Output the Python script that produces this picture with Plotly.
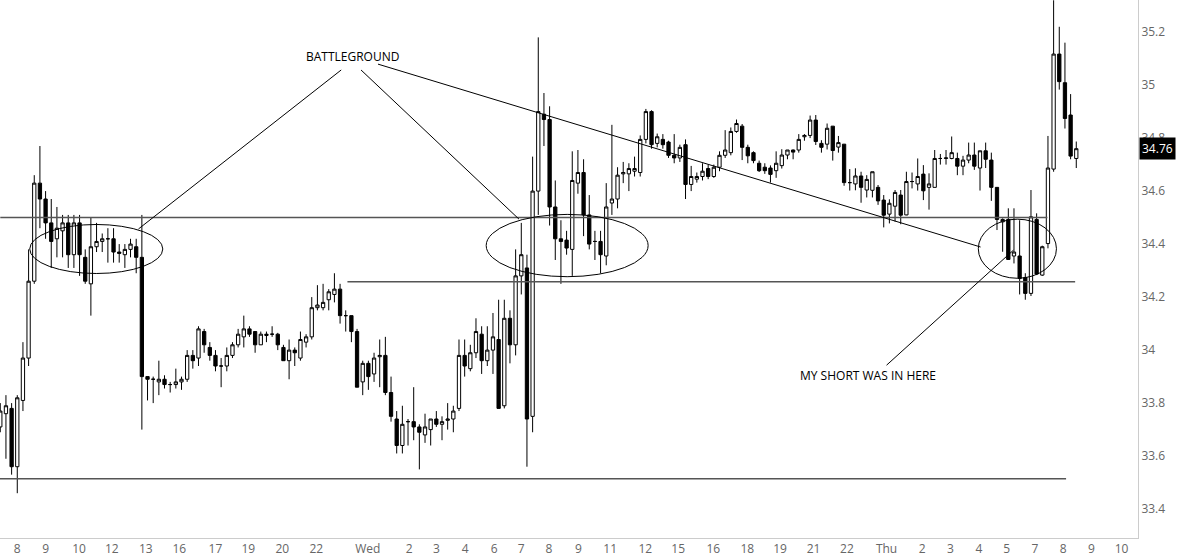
import plotly.graph_objects as go

# Intraday candles (one entry per bar, left to right)
opens = [
    33.71, 33.76, 33.78, 33.56, 33.81, 33.97, 34.26, 34.63, 34.57, 34.48,
    34.42, 34.45, 34.48, 34.36, 34.48, 34.35, 34.25, 34.39, 34.41, 34.42,
    34.42, 34.37, 34.36, 34.38, 34.39, 34.35, 33.90, 33.89, 33.88, 33.89,
    33.87, 33.87, 33.88, 33.89, 33.98, 33.97, 34.07, 34.01, 33.98, 33.94,
    33.94, 33.98, 34.02, 34.05, 34.08, 34.07, 34.02, 34.055, 34.06, 34.06,
    34.01, 33.96, 34.00, 33.97, 34.03, 34.05, 34.16, 34.16, 34.19, 34.21,
    34.23, 34.13, 34.13, 34.07, 33.88, 33.95, 33.91, 33.975, 33.98, 33.84,
    33.74, 33.64, 33.73, 33.73, 33.71, 33.68, 33.70, 33.74, 33.72, 33.735,
    33.74, 33.78, 33.98, 33.93, 33.99, 34.06, 33.96, 34.00, 34.04, 33.79,
    34.12, 34.02, 34.28, 34.31, 33.75, 34.60, 34.89, 34.87, 34.54, 34.42,
    34.415, 34.38, 34.63, 34.67, 34.51, 34.41, 34.41, 34.355, 34.555, 34.57,
    34.665, 34.665, 34.675, 34.67, 34.795, 34.90, 34.78, 34.795, 34.785, 34.735,
    34.725, 34.775, 34.625, 34.645, 34.655, 34.685, 34.655, 34.69, 34.735, 34.745,
    34.825, 34.845, 34.765, 34.745, 34.705, 34.69, 34.687, 34.677, 34.696, 34.736,
    34.755, 34.755, 34.805, 34.81, 34.868, 34.78, 34.777, 34.845, 34.766, 34.777,
    34.632, 34.627, 34.657, 34.604, 34.603, 34.614, 34.566, 34.513, 34.543, 34.585,
    34.51, 34.636, 34.627, 34.664, 34.614, 34.614, 34.723, 34.723, 34.723, 34.723,
    34.694, 34.717, 34.736, 34.687, 34.752, 34.717, 34.614, 34.484, 34.493, 34.355,
    34.355, 34.274, 34.214, 34.493, 34.283, 34.402, 34.683, 35.117, 35.009, 34.887,
    34.723,
]
highs = [
    33.80, 33.83, 33.80, 33.83, 34.03, 34.38, 34.66, 34.77, 34.60, 34.57,
    34.54, 34.51, 34.51, 34.51, 34.51, 34.38, 34.50, 34.48, 34.44, 34.46,
    34.46, 34.40, 34.40, 34.42, 34.42, 34.51, 33.90, 33.90, 33.96, 33.905,
    33.88, 33.93, 33.90, 34.00, 34.00, 34.09, 34.08, 34.03, 34.00, 33.97,
    34.01, 34.03, 34.08, 34.13, 34.09, 34.07, 34.07, 34.07, 34.09, 34.065,
    34.02, 34.04, 34.01, 34.07, 34.06, 34.20, 34.245, 34.25, 34.23, 34.29,
    34.25, 34.15, 34.13, 34.08, 33.96, 33.96, 33.99, 34.04, 34.05, 33.90,
    33.77, 33.79, 33.74, 33.86, 33.72, 33.76, 33.74, 33.77, 33.75, 33.80,
    33.79, 34.04, 34.04, 34.02, 34.12, 34.09, 34.09, 34.14, 34.19, 34.19,
    34.15, 34.38, 34.48, 34.36, 34.73, 35.18, 34.97, 34.92, 34.64, 34.49,
    34.45, 34.75, 34.755, 34.72, 34.585, 34.45, 34.45, 34.63, 34.85, 34.69,
    34.71, 34.705, 34.73, 34.81, 34.91, 34.905, 34.817, 34.815, 34.79, 34.815,
    34.775, 34.795, 34.695, 34.67, 34.705, 34.70, 34.70, 34.75, 34.83, 34.84,
    34.87, 34.853, 34.775, 34.75, 34.715, 34.705, 34.697, 34.75, 34.758, 34.755,
    34.757, 34.815, 34.815, 34.885, 34.887, 34.792, 34.855, 34.845, 34.808, 34.777,
    34.683, 34.686, 34.673, 34.66, 34.673, 34.623, 34.585, 34.569, 34.604, 34.604,
    34.673, 34.67, 34.723, 34.698, 34.667, 34.755, 34.74, 34.755, 34.806, 34.745,
    34.733, 34.783, 34.783, 34.752, 34.783, 34.745, 34.614, 34.497, 34.535, 34.535,
    34.49, 34.29, 34.604, 34.516, 34.394, 34.808, 35.32, 35.22, 35.16, 34.966,
    34.787,
]
lows = [
    33.69, 33.59, 33.53, 33.46, 33.77, 33.94, 34.25, 34.46, 34.42, 34.31,
    34.35, 34.35, 34.31, 34.31, 34.28, 34.25, 34.13, 34.37, 34.37, 34.33,
    34.33, 34.33, 34.31, 34.35, 34.29, 33.70, 33.81, 33.80, 33.83, 33.855,
    33.84, 33.855, 33.85, 33.88, 33.93, 33.94, 33.99, 33.96, 33.92, 33.86,
    33.92, 33.97, 34.01, 34.01, 34.05, 33.99, 34.02, 34.03, 34.05, 34.00,
    33.96, 33.89, 33.94, 33.96, 34.01, 34.04, 34.15, 34.15, 34.15, 34.18,
    34.10, 34.07, 34.03, 33.86, 33.83, 33.85, 33.88, 33.86, 33.83, 33.73,
    33.61, 33.61, 33.64, 33.66, 33.55, 33.65, 33.64, 33.71, 33.66, 33.70,
    33.69, 33.77, 33.90, 33.92, 33.97, 33.91, 33.94, 33.91, 33.78, 33.78,
    33.95, 33.98, 34.21, 33.56, 33.69, 34.51, 34.77, 34.47, 34.34, 34.25,
    34.36, 34.28, 34.59, 34.43, 34.38, 34.34, 34.29, 34.32, 34.51, 34.535,
    34.63, 34.60, 34.655, 34.655, 34.78, 34.76, 34.765, 34.76, 34.725, 34.705,
    34.71, 34.57, 34.60, 34.632, 34.64, 34.645, 34.65, 34.675, 34.725, 34.735,
    34.82, 34.717, 34.705, 34.705, 34.672, 34.665, 34.632, 34.65, 34.685, 34.72,
    34.72, 34.745, 34.79, 34.80, 34.774, 34.745, 34.757, 34.715, 34.745, 34.62,
    34.602, 34.603, 34.556, 34.576, 34.576, 34.548, 34.463, 34.478, 34.485, 34.475,
    34.509, 34.61, 34.602, 34.566, 34.53, 34.614, 34.70, 34.70, 34.72, 34.66,
    34.66, 34.705, 34.68, 34.602, 34.687, 34.563, 34.453, 34.371, 34.34, 34.327,
    34.21, 34.19, 34.204, 34.283, 34.28, 34.384, 34.673, 34.983, 34.836, 34.72,
    34.687,
]
closes = [
    33.77, 33.79, 33.56, 33.82, 33.97, 34.26, 34.63, 34.57, 34.48, 34.41,
    34.46, 34.48, 34.36, 34.48, 34.36, 34.26, 34.39, 34.41, 34.42, 34.42,
    34.37, 34.365, 34.38, 34.40, 34.35, 33.90, 33.89, 33.89, 33.89, 33.87,
    33.87, 33.88, 33.89, 33.98, 33.96, 34.08, 34.02, 33.98, 33.94, 33.94,
    33.98, 34.02, 34.06, 34.08, 34.06, 34.02, 34.06, 34.06, 34.06, 34.02,
    33.96, 34.00, 33.99, 34.04, 34.05, 34.16, 34.17, 34.18, 34.22, 34.23,
    34.13, 34.13, 34.07, 33.86, 33.95, 33.90, 33.97, 33.98, 33.84, 33.75,
    33.64, 33.72, 33.73, 33.71, 33.69, 33.71, 33.74, 33.72, 33.73, 33.74,
    33.77, 33.98, 33.94, 33.99, 34.07, 33.96, 34.00, 34.05, 33.78, 34.12,
    34.02, 34.28, 34.36, 33.74, 34.60, 34.90, 34.87, 34.54, 34.42, 34.41,
    34.385, 34.64, 34.67, 34.51, 34.40, 34.41, 34.36, 34.54, 34.57, 34.66,
    34.67, 34.685, 34.685, 34.795, 34.90, 34.775, 34.805, 34.775, 34.735, 34.725,
    34.765, 34.625, 34.655, 34.655, 34.675, 34.655, 34.69, 34.735, 34.755, 34.825,
    34.855, 34.765, 34.733, 34.715, 34.677, 34.677, 34.663, 34.705, 34.736, 34.755,
    34.747, 34.795, 34.81, 34.868, 34.787, 34.765, 34.837, 34.753, 34.783, 34.632,
    34.632, 34.657, 34.614, 34.644, 34.673, 34.563, 34.509, 34.554, 34.595, 34.509,
    34.636, 34.636, 34.655, 34.601, 34.627, 34.723, 34.723, 34.725, 34.745, 34.694,
    34.717, 34.736, 34.694, 34.752, 34.72, 34.614, 34.493, 34.493, 34.342, 34.37,
    34.27, 34.214, 34.503, 34.287, 34.39, 34.687, 35.117, 35.013, 34.874, 34.732,
    34.76,
]
bar_index = list(range(len(opens)))

# time axis labels and the bar they sit under
tick_pos = [3.0, 8.0, 13.9, 19.7, 25.7, 31.6, 38.0, 43.8, 49.8, 55.8,
            64.9, 72.2, 77.0, 82.1, 87.2, 92.0, 96.9, 102.1, 107.7, 113.9,
            119.7, 125.9, 131.9, 137.7, 143.6, 149.5, 156.5, 162.8, 167.8,
            172.8, 177.7, 182.7, 187.7, 192.7, 198.0]
tick_text = ['8', '9', '10', '12', '13', '16', '17', '19', '20', '22',
             'Wed', '2', '3', '4', '6', '7', '8', '9', '11', '12',
             '15', '16', '18', '19', '21', '22', 'Thu', '2', '3',
             '4', '5', '7', '8', '9', '10']

last_price = closes[-1]

fig = go.Figure(go.Candlestick(
    x=bar_index, open=opens, high=highs, low=lows, close=closes,
    increasing=dict(line=dict(color='black', width=1), fillcolor='white'),
    decreasing=dict(line=dict(color='black', width=1), fillcolor='black'),
    whiskerwidth=0, showlegend=False, hoverinfo='skip',
))

# support / resistance levels
level_color = '#555555'
for x0, x1, y in [(0, 184.9, 34.50), (61.3, 189.8, 34.258), (-1, 188.2, 33.515)]:
    fig.add_shape(type='line', x0=x0, x1=x1, y0=y, y1=y,
                  line=dict(color=level_color, width=1.5))

# the circled zones
for x0, x1, y0, y1 in [(5.2, 28.7, 34.289, 34.474),
                       (85.8, 114.4, 34.277, 34.512),
                       (172.7, 186.5, 34.271, 34.494)]:
    fig.add_shape(type='circle', x0=x0, x1=x1, y0=y0, y1=y1,
                  line=dict(color='black', width=1))

# pointer lines from the labels
for x0, y0, x1, y1 in [(60.2, 35.057, 24.4, 34.457),
                       (63.7, 35.057, 91.6, 34.494),
                       (66.7, 35.079, 173.1, 34.389),
                       (156.5, 33.943, 178.9, 34.377)]:
    fig.add_shape(type='line', x0=x0, y0=y0, x1=x1, y1=y1,
                  line=dict(color='black', width=1))

note_font = dict(family='Open Sans', size=12, color='black')
fig.add_annotation(x=62.2, y=35.106, text='BATTLEGROUND', showarrow=False,
                   font=note_font)
fig.add_annotation(x=153.3, y=33.906, text='MY SHORT WAS IN HERE',
                   showarrow=False, font=note_font)

# last price tag on the axis
fig.add_annotation(xref='paper', x=1, xanchor='left', xshift=1, y=last_price,
                   text=f'{last_price:.2f}', showarrow=False,
                   bgcolor='black', borderpad=2,
                   font=dict(family='Open Sans', size=12, color='white'))

fig.update_layout(
    width=1183, height=556,
    margin=dict(l=0, r=45, t=0, b=18),
    paper_bgcolor='white', plot_bgcolor='white',
    boxgap=0.42, boxgroupgap=0,
    font=dict(family='Open Sans', size=12, color='#666666'),
    xaxis=dict(range=[-0.05, 200.9], rangeslider=dict(visible=False),
               tickmode='array', tickvals=tick_pos, ticktext=tick_text,
               showgrid=False, zeroline=False, showline=True,
               linecolor='#cccccc', ticks='', ticklen=0),
    yaxis=dict(side='right', range=[33.291, 35.321], dtick=0.2, tick0=33.4,
               showgrid=False, zeroline=False, showline=True,
               linecolor='#cccccc', ticks=''),
)

# page margin off so the chart sits flush in the window
fig.write_html('out.html', config={'displayModeBar': False},
               post_script="document.body.style.margin='0';")
